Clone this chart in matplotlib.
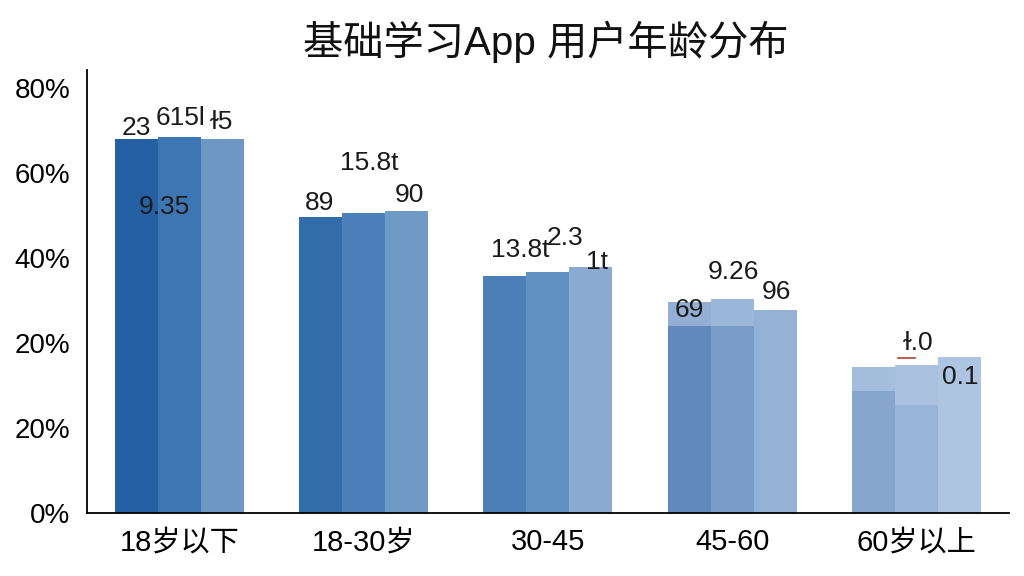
import matplotlib
matplotlib.use("Agg")
import matplotlib.pyplot as plt
import numpy as np

plt.rcParams['font.family'] = ['Liberation Sans', 'Noto Sans CJK SC', 'DejaVu Sans']

categories = ["18岁以下", "18-30岁", "30-45", "45-60", "60岁以上"]
series1 = [88.0, 69.6, 55.8, 44.0, 28.7]
series1_cap = [88.0, 69.6, 55.8, 49.7, 34.3]
series2 = [88.5, 70.6, 56.8, 44.0, 25.4]
series2_cap = [88.5, 70.6, 56.8, 50.4, 34.8]
series3 = [88.1, 71.1, 57.9, 47.9, 36.8]
ytick_values = [0, 20, 40, 60, 80, 100]
ytick_labels = ["0%", "20%", "20%", "40%", "60%", "80%"]
label_texts = ["23", "615l", "ɫ5", "9.35", "89", "15.8t", "90", "13.8t", "2.3", "1t",
               "69", "9.26", "96", "ɫ.0", "0.1"]
label_x = [-0.234, 0.005, 0.228, -0.082, 0.761, 1.033, 1.25, 1.848, 2.092, 2.266,
           2.766, 3.005, 3.239, 4.011, 4.239]
label_y = [90.6, 92.9, 92.0, 72.0, 72.9, 82.4, 74.8, 61.9, 64.7, 59.0,
           47.8, 56.7, 52.0, 40.0, 32.0]

colors1 = ["#2560a3", "#326ca9", "#4d7fb9", "#6189bd", "#86a6cc"]
colors2 = ["#3e76b4", "#4d80bb", "#6090c4", "#7a9cc8", "#98b4d6"]
colors3 = ["#6e98c4", "#709ac6", "#8aaad2", "#94b2d6", "#aec5e1"]
cap1 = ["#2560a3", "#326ca9", "#4d7fb9", "#93b0d4", "#a4bddc"]
cap2 = ["#3e76b4", "#4d80bb", "#6090c4", "#9bb7da", "#a9c1df"]

fig = plt.figure(figsize=(10.24, 5.76), dpi=100)
ax = fig.add_axes([0.085, 0.109, 0.9, 0.769])

x = np.arange(len(categories))
w = 0.233
ax.bar(x - w, series1_cap, w, color=cap1, linewidth=0)
ax.bar(x, series2_cap, w, color=cap2, linewidth=0)
ax.bar(x - w, series1, w, color=colors1, linewidth=0)
ax.bar(x, series2, w, color=colors2, linewidth=0)
ax.bar(x + w, series3, w, color=colors3, linewidth=0)

for t, lx, ly in zip(label_texts, label_x, label_y):
    ax.text(lx, ly, t, ha='center', va='center', fontsize=19, color='#1a1a1a')
ax.plot([3.9, 3.99], [36.6, 36.6], color='#b04030', lw=1.2)

ax.set_xlim(-0.5, 4.5)
ax.set_ylim(0, 104.2)
ax.set_xticks(x)
ax.set_xticklabels(categories, fontsize=21)
ax.set_yticks(ytick_values)
ax.set_yticklabels(ytick_labels, fontsize=20)
ax.tick_params(axis='both', length=0)
ax.tick_params(axis='y', pad=12)
ax.tick_params(axis='x', pad=11)
for s in ['top', 'right']:
    ax.spines[s].set_visible(False)
ax.spines['left'].set_linewidth(1.3)
ax.spines['bottom'].set_linewidth(1.3)

fig.text(0.533, 0.927, "基础学习App 用户年龄分布", ha='center', va='center', fontsize=29, color='#111111')

fig.savefig("out.png", dpi=100)
